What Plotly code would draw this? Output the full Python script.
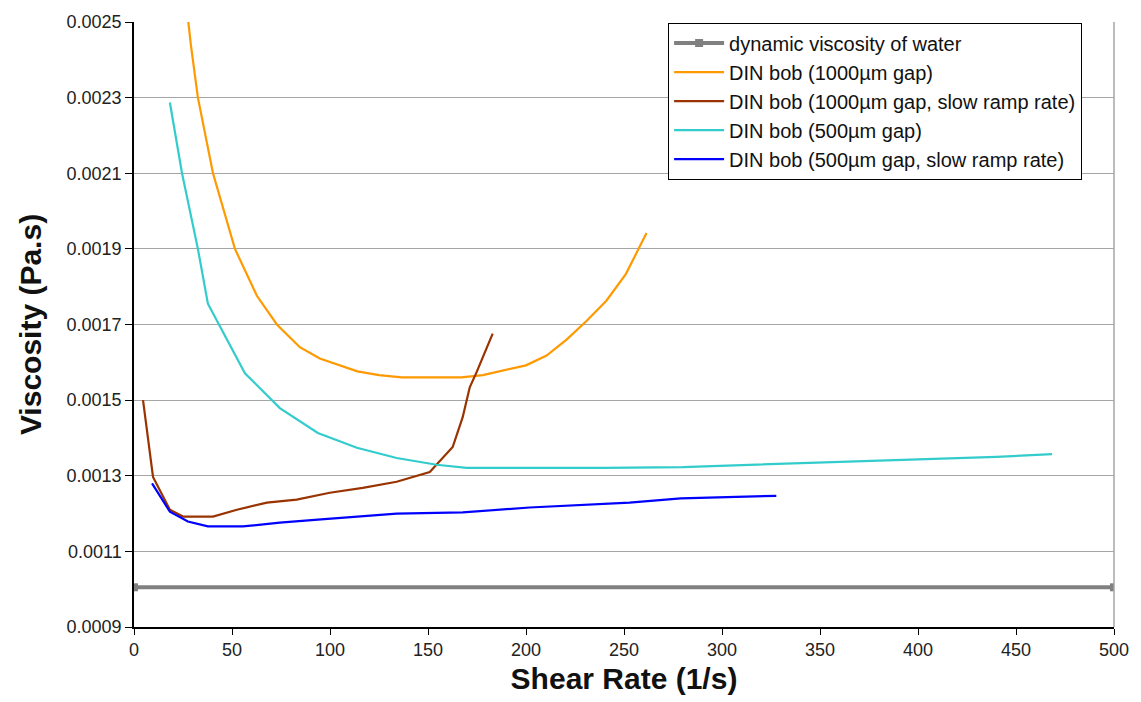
import plotly.graph_objects as go

water_x = [0, 500]
water_y = [0.001005, 0.001005]

o_x = [27.5, 29, 32.6, 40.3, 51.5, 62.7, 72.9, 84.6, 94.8, 114, 125, 136.6, 150, 167, 178, 190, 200, 210.5, 220.7, 231, 241, 251, 261.5]
o_y = [0.00251, 0.00244, 0.0023, 0.0021, 0.0019, 0.001776, 0.0017, 0.00164, 0.00161, 0.001576, 0.001566, 0.00156, 0.00156, 0.00156, 0.001566, 0.00158, 0.001592, 0.001618, 0.00166, 0.00171, 0.001763, 0.001834, 0.001942]

b_x = [4.6, 9.7, 18.3, 25, 40.3, 52.5, 67.8, 83, 99.9, 116.7, 134, 150.9, 162.6, 167.7, 171.3, 174.8, 183]
b_y = [0.0015, 0.001297, 0.00121, 0.001192, 0.001192, 0.00121, 0.001229, 0.001237, 0.001255, 0.001268, 0.001284, 0.00131, 0.001376, 0.001455, 0.001534, 0.001574, 0.001676]

c_x = [18.3, 24.5, 32.6, 37.7, 56.6, 74.4, 93.8, 113.7, 134, 154.4, 169.7, 201.8, 240, 280, 320, 360, 400, 440, 468.4]
c_y = [0.002287, 0.0021, 0.0019, 0.001755, 0.001571, 0.001479, 0.001413, 0.001374, 0.001347, 0.001329, 0.001321, 0.001321, 0.001321, 0.001323, 0.00133, 0.001337, 0.001343, 0.00135, 0.001357]

bl_x = [9.2, 18.3, 27.5, 37.7, 55.6, 74.4, 93.8, 113.7, 134, 167.7, 201.8, 252.8, 279, 327.7]
bl_y = [0.00128, 0.001205, 0.001179, 0.001166, 0.001166, 0.001176, 0.001184, 0.001192, 0.0012, 0.001203, 0.001216, 0.001229, 0.00124, 0.001247]

names = ["dynamic viscosity of water", "DIN bob (1000\u00b5m gap)", "DIN bob (1000\u00b5m gap, slow ramp rate)",
         "DIN bob (500\u00b5m gap)", "DIN bob (500\u00b5m gap, slow ramp rate)"]

fig = go.Figure()
fig.add_trace(go.Scatter(x=water_x, y=water_y, name=names[0], mode="lines+markers",
                         line=dict(color="#808080", width=4),
                         marker=dict(symbol="square", size=8, color="#808080")))
fig.add_trace(go.Scatter(x=o_x, y=o_y, name=names[1], mode="lines", line=dict(color="#FF9900", width=2.2)))
fig.add_trace(go.Scatter(x=b_x, y=b_y, name=names[2], mode="lines", line=dict(color="#993300", width=2.2)))
fig.add_trace(go.Scatter(x=c_x, y=c_y, name=names[3], mode="lines", line=dict(color="#33CCCC", width=2.2)))
fig.add_trace(go.Scatter(x=bl_x, y=bl_y, name=names[4], mode="lines", line=dict(color="#0000FF", width=2.2)))

fig.update_layout(
    width=1141, height=702,
    margin=dict(l=134, r=26, t=20, b=74),
    paper_bgcolor="white", plot_bgcolor="white",
    font=dict(family="Liberation Sans, Arial, sans-serif", color="#222222"),
    showlegend=True,
    legend=dict(x=0.545, y=0.999, xanchor="left", yanchor="top",
                bordercolor="black", borderwidth=1, bgcolor="white",
                font=dict(size=20, color="#111111"), tracegroupgap=0, itemwidth=50),
    xaxis=dict(range=[0, 500], dtick=50, tick0=0, showgrid=False, zeroline=False,
               showline=True, linecolor="black", linewidth=1.5,
               ticks="outside", ticklen=6, tickcolor="black",
               tickfont=dict(size=18, color="#222222"),
               title=dict(text="<b>Shear Rate (1/s)</b>", standoff=9,
                          font=dict(size=30, color="#111111"))),
    yaxis=dict(range=[0.0009, 0.0025], dtick=0.0002, tick0=0.0009, tickformat=".4f",
               showgrid=True, gridcolor="#A6A6A6", gridwidth=1.2, zeroline=False,
               showline=True, linecolor="black", linewidth=1.5,
               ticks="outside", ticklen=7, tickcolor="black",
               tickfont=dict(size=18, color="#222222"),
               title=dict(text="<b>Viscosity (Pa.s)</b>", standoff=16,
                          font=dict(size=30, color="#111111"))),
)
fig.add_shape(type="line", xref="paper", yref="paper", x0=1, x1=1, y0=0, y1=1,
              line=dict(color="#A6A6A6", width=1.5))

fig.write_html("out.html")
